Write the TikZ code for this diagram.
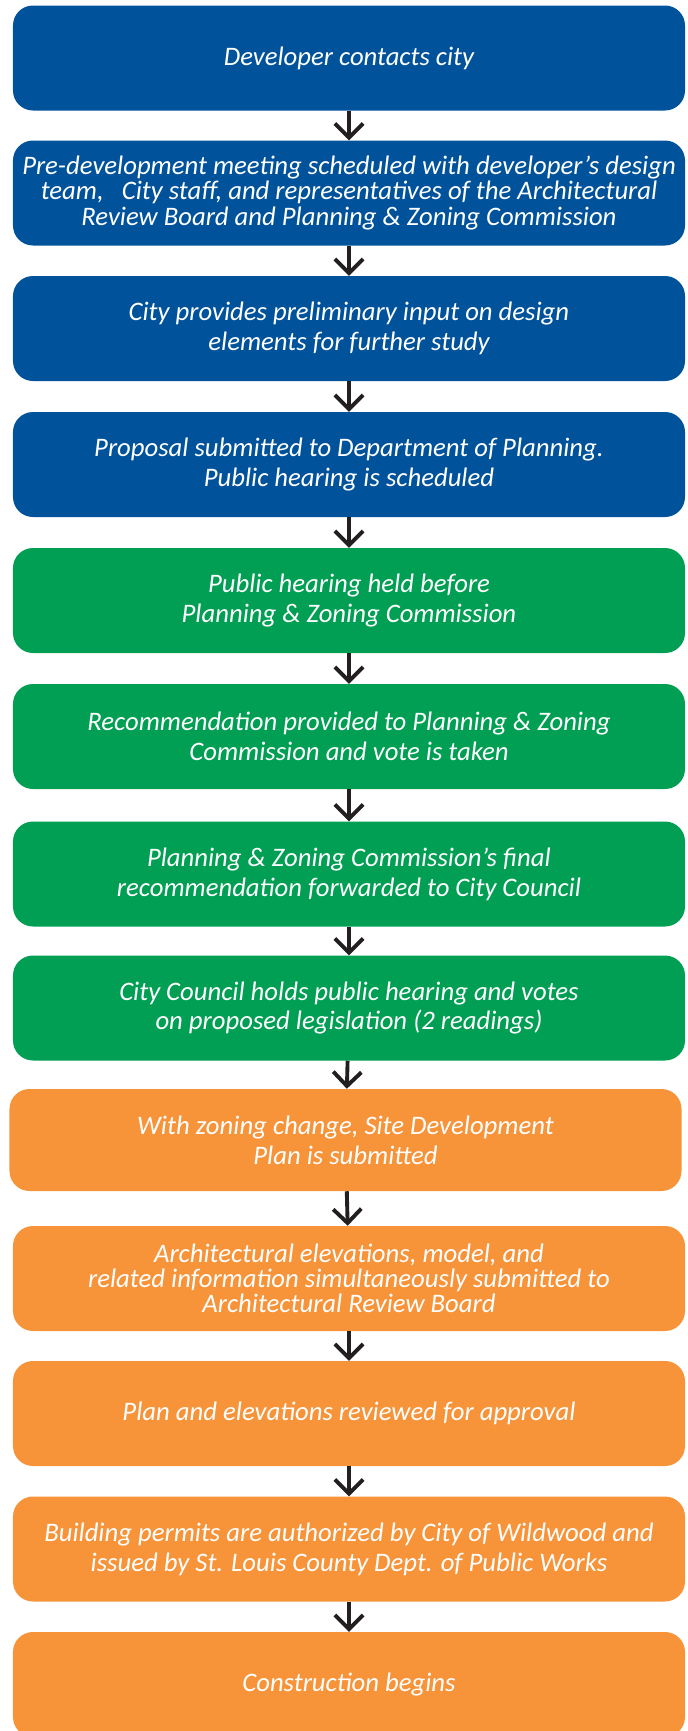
\documentclass[tikz,border=0pt]{standalone}
\usepackage{fontspec}
\setmainfont{Carlito}
\usetikzlibrary{arrows.meta,positioning}
\definecolor{cityblue}{RGB}{0,82,155}
\definecolor{hearinggreen}{RGB}{0,159,83}
\definecolor{siteorange}{RGB}{247,148,58}
\definecolor{arrowdark}{RGB}{35,31,32}

\begin{document}
\begin{tikzpicture}[x=0.03cm, y=-0.03cm, every node/.style={font=\fontsize{22.8}{25.5}\selectfont\itshape}]
\tikzset{stage/.style={rounded corners=0.6cm, minimum width=20.16cm, minimum height=3.15cm, text=white, align=center, inner sep=1pt}}
\tikzset{bluestage/.style={stage, fill=cityblue}}
\tikzset{greenstage/.style={stage, fill=hearinggreen}}
\tikzset{orangestage/.style={stage, fill=siteorange}}
\tikzset{tight/.style={font=\fontsize{22.8}{21.5}\selectfont\itshape}}
\tikzset{flow/.style={-{Straight Barb[length=12pt,width=24pt]}, line width=3.3pt, arrowdark}}

\useasboundingbox (0,0) rectangle (687,1731);

% Blue: developer and city
\node[bluestage] (s1) at (349,58) {Developer contacts city};
\node[bluestage, tight] (s2) at (349,193) {Pre-development meeting scheduled with developer's design\\ team,\ \ \ City staff, and representatives of the Architectural\\ Review Board and Planning \& Zoning Commission};
\node[bluestage] (s3) at (349,328.5) {City provides preliminary input on design\\ elements for further study};
\node[bluestage] (s4) at (349,464.5) {Proposal submitted to Department of Planning.\\ Public hearing is scheduled};

% Green: hearings and votes
\node[greenstage] (s5) at (349,600.5) {Public hearing held before\\ Planning \& Zoning Commission};
\node[greenstage] (s6) at (349,736.5) {Recommendation provided to Planning \& Zoning\\ Commission and vote is taken};
\node[greenstage] (s7) at (349,874) {Planning \& Zoning Commission's final\\ recommendation forwarded to City Council};
\node[greenstage] (s8) at (349,1008) {City Council holds public hearing and votes\\ on proposed legislation (2 readings)};

% Orange: site plan and permits
\node[orangestage, minimum height=3.06cm] (s9) at (345.5,1140) {With zoning change, Site Development\\ Plan is submitted};
\node[orangestage, tight] (s10) at (349,1278.5) {Architectural elevations, model, and\\ related information simultaneously submitted to\\ Architectural Review Board};
\node[orangestage] (s11) at (349,1413.5) {Plan and elevations reviewed for approval};
\node[orangestage] (s12) at (349,1549) {Building permits are authorized by City of Wildwood and\\ issued by St. Louis County Dept. of Public Works};
\node[orangestage] (s13) at (349,1684.5) {Construction begins};

\draw[flow] (s1)--(s2); \draw[flow] (s2)--(s3); \draw[flow] (s3)--(s4);
\draw[flow] (s4)--(s5); \draw[flow] (s5)--(s6); \draw[flow] (s6)--(s7);
\draw[flow] (s7)--(s8); \draw[flow] (s8)--(s9); \draw[flow] (s9)--(s10);
\draw[flow] (s10)--(s11); \draw[flow] (s11)--(s12); \draw[flow] (s12)--(s13);
\end{tikzpicture}
\end{document}
